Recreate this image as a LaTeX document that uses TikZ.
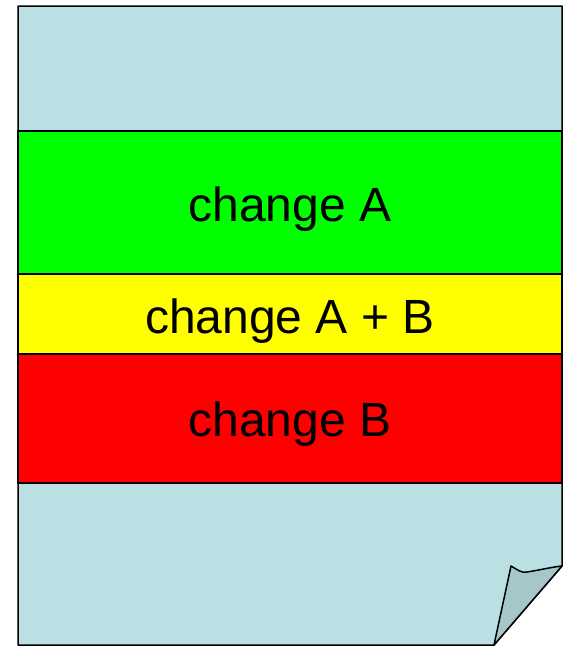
\documentclass[tikz,border=0pt]{standalone}
\usepackage{fontspec}
\setmainfont{Liberation Sans}
\definecolor{paper}{HTML}{BBE0E3}
\definecolor{flap}{HTML}{A6C7CA}
\definecolor{bandA}{HTML}{00FF00}
\definecolor{bandAB}{HTML}{FFFF00}
\definecolor{bandB}{HTML}{FF0000}
\begin{document}
\begin{tikzpicture}[x=1pt,y=-1pt,
  band/.style={draw=black,line width=1.3pt},
  lbl/.style={font=\fontsize{48}{52}\selectfont,text=black}]
\useasboundingbox (0,0) rectangle (569,648);
\coordinate (tl) at (18,6);
\coordinate (tr) at (562,6);
\coordinate (rc) at (562,566);
\coordinate (bc) at (494,645);
\coordinate (bl) at (18,645);
\draw[line width=1.5pt,fill=paper,line join=round] (tl) -- (tr) -- (rc) -- (bc) -- (bl) -- cycle;
\draw[band,fill=bandA] (18,131) rectangle (562,274);
\draw[band,fill=bandAB] (18,274) rectangle (562,354);
\draw[band,fill=bandB] (18,354) rectangle (562,483);
\node[lbl] (a) at (290,209) {change A};
\node[lbl] (ab) at (290,321) {change A + B};
\node[lbl] (b) at (290,424) {change B};
\draw[line width=1.5pt,fill=flap,line join=round] (bc) -- (511,566) .. controls (518,570) and (521,573) .. (527,572) .. controls (540,570) and (552,567) .. (rc) -- cycle;
\end{tikzpicture}
\end{document}
